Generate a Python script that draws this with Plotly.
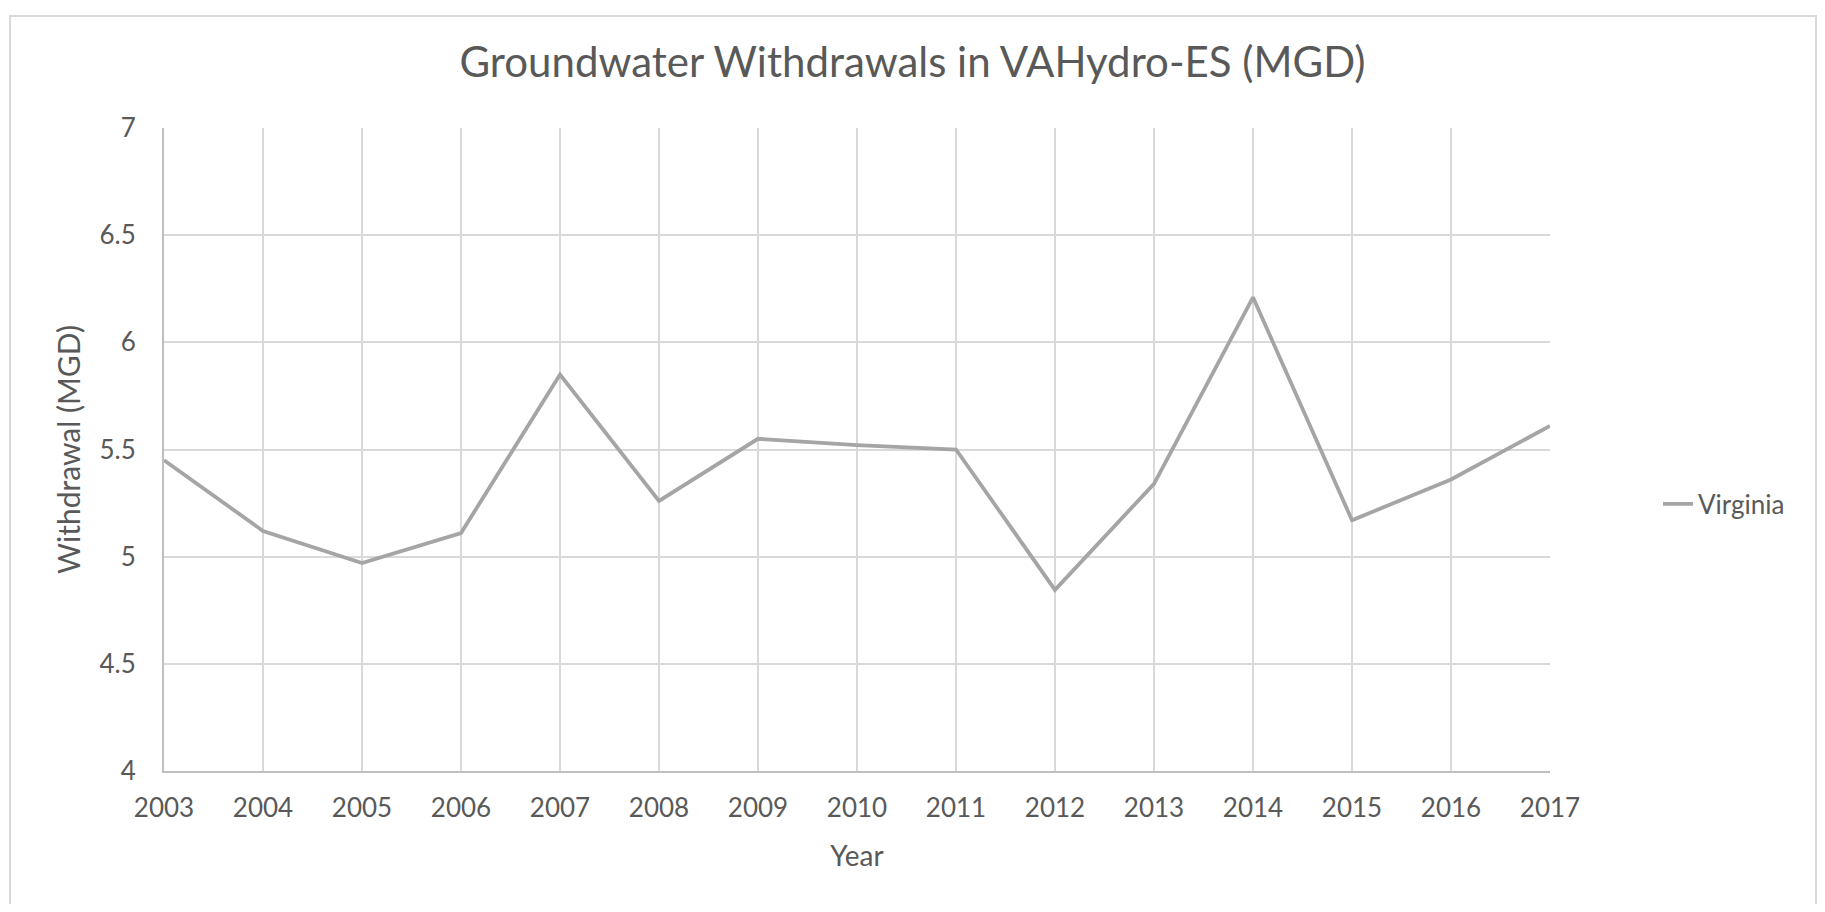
import plotly.graph_objects as go

years = [2003, 2004, 2005, 2006, 2007, 2008, 2009, 2010, 2011, 2012, 2013, 2014, 2015, 2016, 2017]
withdrawal_mgd = [5.45, 5.12, 4.97, 5.11, 5.85, 5.26, 5.55, 5.52, 5.50, 4.845, 5.34, 6.21, 5.17, 5.36, 5.61]
y_ticks = [4, 4.5, 5, 5.5, 6, 6.5, 7]
y_tick_labels = ["4", "4.5", "5", "5.5", "6", "6.5", "7"]

# page has an 8px body margin; figure coordinates = page coordinates - 8
OFF = 8
W, H = 1809, 896
L, R, T, B = 156, 267, 120, 133
pw, ph = W - L - R, H - T - B

def px(x_page):
    return (x_page - OFF - L) / pw

def py(y_page):
    return (H - B - (y_page - OFF)) / ph

FONT = "Lato, Open Sans, Liberation Sans, sans-serif"
TXT = "#595959"

fig = go.Figure()
fig.add_trace(go.Scatter(
    x=years, y=withdrawal_mgd, mode="lines", name="Virginia",
    line=dict(color="#a5a5a5", width=3.8),
))

fig.update_layout(
    width=W, height=H,
    margin=dict(l=L, r=R, t=T, b=B),
    paper_bgcolor="white", plot_bgcolor="white",
    title=dict(text="Groundwater Withdrawals in VAHydro-ES (MGD)", x=0.5, xref="container",
               y=1 - (62 - OFF) / H, yref="container", yanchor="middle", xanchor="center",
               font=dict(family=FONT, size=42, color=TXT)),
    font=dict(family=FONT, color=TXT),
    showlegend=True,
    legend=dict(x=px(1658), y=py(504), xanchor="left", yanchor="middle",
                font=dict(family=FONT, size=26, color=TXT),
                bgcolor="rgba(0,0,0,0)"),
    xaxis=dict(
        range=[2003, 2017], tickmode="array", tickvals=years, ticktext=[str(y) for y in years],
        showgrid=True, gridcolor="#d9d9d9", gridwidth=2,
        showline=True, linecolor="#bfbfbf", linewidth=2,
        ticks="outside", ticklen=13, tickcolor="rgba(0,0,0,0)",
        tickfont=dict(family=FONT, size=26, color=TXT),
        title=dict(text="Year", font=dict(family=FONT, size=28, color=TXT), standoff=24),
        zeroline=False,
    ),
    yaxis=dict(
        range=[4, 7], tickmode="array", tickvals=y_ticks, ticktext=y_tick_labels,
        showgrid=True, gridcolor="#d9d9d9", gridwidth=2,
        showline=True, linecolor="#bfbfbf", linewidth=2,
        ticks="outside", ticklen=21, tickcolor="rgba(0,0,0,0)",
        tickfont=dict(family=FONT, size=26, color=TXT),
        title=dict(text="Withdrawal (MGD)", font=dict(family=FONT, size=30, color=TXT), standoff=10),
        zeroline=False,
    ),
    shapes=[dict(type="rect", xref="paper", yref="paper",
                 x0=px(10), x1=px(1816), y0=py(930), y1=py(16),
                 line=dict(color="#d9d9d9", width=2), fillcolor="rgba(0,0,0,0)", layer="below")],
)

fig.write_html("out.html")
